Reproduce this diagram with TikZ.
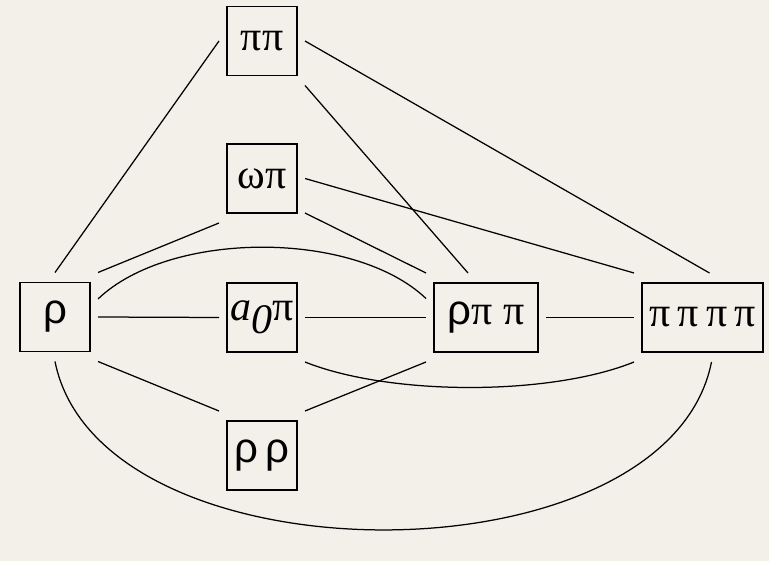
\documentclass[tikz,border=0pt]{standalone}
\usepackage{fontspec}
\setmainfont{Liberation Serif}
\newfontfamily\sansgr{Liberation Sans}
\usetikzlibrary{calc}
\definecolor{bg}{RGB}{243,240,234}
\begin{document}
\begin{tikzpicture}[x=1pt,y=-1pt,
  box/.style={draw,line width=1.3pt,inner sep=0pt,outer xsep=8pt,outer ysep=10pt,
    minimum height=69pt,font=\fontsize{42}{44}\selectfont},
  link/.style={line width=1.25pt}]
\fill[bg] (0,0) rectangle (769,561);
\useasboundingbox (0,0) rectangle (769,561);
\node[box,minimum width=70pt] (r) at (55,317) {\sansgr ρ};
\node[box,minimum width=70pt] (pp) at (262,41) {ππ};
\node[box,minimum width=70pt] (wp) at (262,178.5) {ωπ};
\node[box,minimum width=70pt] (ap) at (262,317.5) {{\itshape a\raisebox{-0.3em}{0}}π};
\node[box,minimum width=70pt] (rr) at (262,455.5) {\sansgr ρ\,ρ};
\node[box,minimum width=104pt] (rpp) at (486,317.5) {{\sansgr ρ}π π};
\node[box,minimum width=121pt] (pppp) at (702.5,317.5) {π\,π\,π\,π};
\draw[link] (r.north) -- (pp.west);
\draw[link] (r.north east) -- (wp.south west);
\draw[link] ([yshift=18pt]r.east) .. controls (170,230) and (354,230) .. ([yshift=19pt]rpp.west);
\draw[link] (r.east) -- (ap.west);
\draw[link] (r.south east) -- (rr.north west);
\draw[link] (r.south) .. controls (100,586) and (667,586) .. ([xshift=9pt]pppp.south);
\draw[link] (pp.south east) -- ([xshift=-18pt]rpp.north);
\draw[link] (pp.east) -- ([xshift=7pt]pppp.north);
\draw[link] ([yshift=10pt]wp.south east) -- (rpp.north west);
\draw[link] (wp.east) -- (pppp.north west);
\draw[link] (ap.east) -- (rpp.west);
\draw[link] (ap.south east) .. controls (390,396) and (550,396) .. (pppp.south west);
\draw[link] (rr.north east) -- (rpp.south west);
\draw[link] (rpp.east) -- (pppp.west);
\end{tikzpicture}
\end{document}
